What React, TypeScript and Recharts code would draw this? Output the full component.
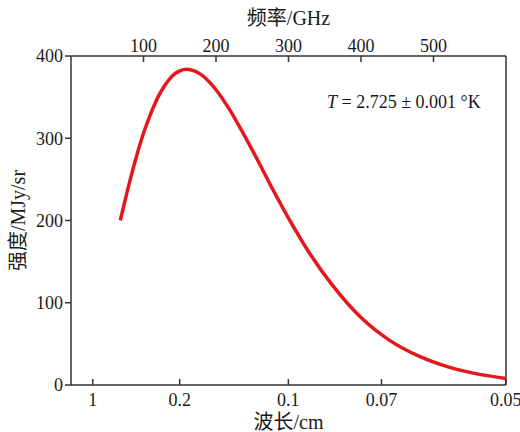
import React from 'react';
import { LineChart, Line, XAxis, YAxis, ReferenceLine } from 'recharts';

// frequency (GHz) vs. intensity (MJy/sr)
const freqGHz = [68, 80, 90, 100, 110, 120, 130, 140, 150, 160, 170, 180, 200, 220, 240, 260, 280, 300, 330, 360, 400, 440, 480, 520, 560, 600];
const intensity = [200, 244, 277, 306, 330, 350, 365, 376, 382, 384, 382, 377, 359, 333, 302, 269, 235, 203, 159, 122, 82, 54, 35, 22, 13.5, 8];

const freqTicks = [100, 200, 300, 400, 500];
const wavelengthCm = [1, 0.2, 0.1, 0.07, 0.05];
const wavelengthLabels = ['1', '0.2', '0.1', '0.07', '0.05'];
const intensityTicks = [0, 100, 200, 300, 400];

// wavelength ticks sit on the linear frequency scale: nu = c / lambda
const wavelengthPos = wavelengthCm.map((l) => 29.98 / l);

const data = freqGHz.map((f, i) => ({ f, intensity: intensity[i] }));

const axisColor = '#333';
const textColor = '#1a1a1a';
const tickStyle = { fontSize: 18, fill: textColor };
const tickLineStyle = { stroke: axisColor, strokeWidth: 1.5 };
const fontStack = "'Liberation Serif', 'Noto Sans CJK SC', serif";

// inward tick marks: the line is drawn by hand, the label sits outside the axis
const TopTick = (props: any) => {
    const { x, y, payload } = props;
    return (
        <g>
            <line x1={x} x2={x} y1={y + 4} y2={y + 10} stroke={axisColor} strokeWidth={1.5} />
            <text x={x} y={y} textAnchor="middle" fontSize={18} fill={textColor}>
                {payload.value}
            </text>
        </g>
    );
};

const BottomTick = (props: any) => {
    const { x, y, payload } = props;
    const label = wavelengthLabels[wavelengthPos.indexOf(payload.value)] ?? '';
    return (
        <g>
            <line x1={x} x2={x} y1={y - 7} y2={y - 13} stroke={axisColor} strokeWidth={1.5} />
            <text x={x} y={y} dy="0.75em" textAnchor="middle" fontSize={18} fill={textColor}>
                {label}
            </text>
        </g>
    );
};

const App: React.FC = () => {
    return (
        <div style={{ position: 'absolute', left: 0, top: 0, width: 520, height: 432, background: '#fff', fontFamily: fontStack }}>
            <LineChart width={520} height={432} data={data} margin={{ top: 26, right: 14, bottom: 2, left: 21 }}>
                <XAxis
                    xAxisId="top"
                    orientation="top"
                    dataKey="f"
                    type="number"
                    domain={[0, 600]}
                    allowDataOverflow
                    ticks={freqTicks}
                    interval={0}
                    height={30}
                    stroke={axisColor}
                    strokeWidth={1.5}
                    tickLine={false}
                    tickSize={0}
                    tickMargin={4}
                    tick={<TopTick />}
                    label={{ value: '频率/GHz', position: 'top', offset: 1, fontSize: 20, fill: textColor }}
                />
                <XAxis
                    xAxisId="bottom"
                    dataKey="f"
                    type="number"
                    domain={[0, 600]}
                    allowDataOverflow
                    ticks={wavelengthPos}
                    interval={0}
                    height={45}
                    stroke={axisColor}
                    strokeWidth={1.5}
                    tickLine={false}
                    tickSize={0}
                    tickMargin={7}
                    tick={<BottomTick />}
                    label={{ value: '波长/cm', position: 'insideBottom', offset: 1, fontSize: 20, fill: textColor }}
                />
                <YAxis
                    type="number"
                    domain={[0, 400]}
                    ticks={intensityTicks}
                    width={50}
                    stroke={axisColor}
                    strokeWidth={1.5}
                    tickLine={tickLineStyle}
                    tickSize={6}
                    tickMargin={2}
                    tick={tickStyle}
                    label={{ value: '强度/MJy/sr', angle: -90, position: 'left', offset: 3, fontSize: 20, fill: textColor, style: { textAnchor: 'middle' } }}
                />
                <ReferenceLine xAxisId="bottom" x={600} stroke={axisColor} strokeWidth={1.5} />
                <Line
                    xAxisId="top"
                    dataKey="intensity"
                    stroke="none"
                    dot={false}
                    legendType="none"
                    isAnimationActive={false}
                />
                <Line
                    xAxisId="bottom"
                    type="monotone"
                    dataKey="intensity"
                    stroke="#e5171d"
                    strokeWidth={3.5}
                    dot={false}
                    isAnimationActive={false}
                />
                <text x={327} y={108} fontSize={18} fill={textColor}>
                    <tspan fontStyle="italic">T</tspan> = 2.725 ± 0.001 °K
                </text>
            </LineChart>
        </div>
    );
};

export default App;
